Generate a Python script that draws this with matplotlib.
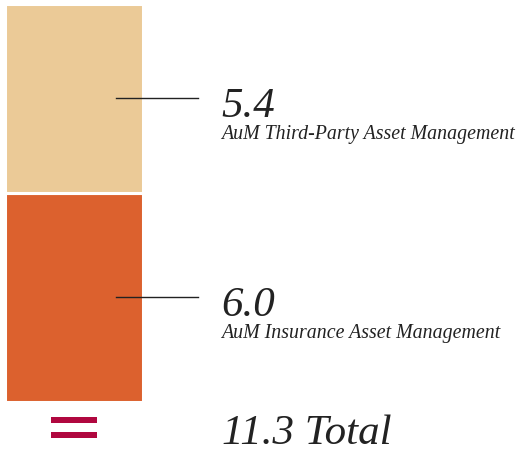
import matplotlib.pyplot as plt
from matplotlib.patches import Rectangle

# values (bottom to top)
labels = ["AuM Insurance Asset Management", "AuM Third-Party Asset Management"]
values = [6.0, 5.4]
value_labels = ["6.0", "5.4"]
colors = ["#DC612E", "#EBCA97"]
total_label = "11.3 Total"

W, H = 527, 452
fig = plt.figure(figsize=(W / 100, H / 100), dpi=100)
plt.rcParams["font.family"] = ["Liberation Serif", "DejaVu Serif"]

# bar axes placed in pixel terms
left, right, top, bottom = 5, 143, 5, 403
ax = fig.add_axes([left / W, 1 - bottom / H, (right - left) / W, (bottom - top) / H])
ax.set_xlim(-0.5, 0.5)
ax.set_ylim(0, sum(values))
ax.axis("off")

base = 0
px = 0.72  # points per pixel
for v, vl, lab, c in zip(values, value_labels, labels, colors):
    ax.bar(0, v, bottom=base, width=1.0, color=c, edgecolor="white", linewidth=2.2,
           clip_on=False)
    mid = base + v / 2
    ax.plot([0.305, 0.90], [mid, mid], color="#222222", lw=1.0, clip_on=False)
    ax.annotate(vl, xy=(1, mid), xycoords=("axes fraction", "data"),
                xytext=(78 * px, -18 * px), textcoords="offset points",
                fontsize=31, style="italic", color="#222222", va="baseline")
    ax.annotate(lab, xy=(1, mid), xycoords=("axes fraction", "data"),
                xytext=(78 * px, -40 * px), textcoords="offset points",
                fontsize=14.3, style="italic", color="#222222", va="baseline")
    base += v

# equals sign
for y0 in (418, 433):
    fig.add_artist(Rectangle((51 / W, 1 - (y0 + 6) / H), 46 / W, 6 / H,
                             transform=fig.transFigure, color="#B0073F", lw=0))

fig.text(222 / W, 1 - 444 / H, total_label, fontsize=31, style="italic",
         color="#222222", va="baseline")

fig.savefig("out.png", dpi=100)
